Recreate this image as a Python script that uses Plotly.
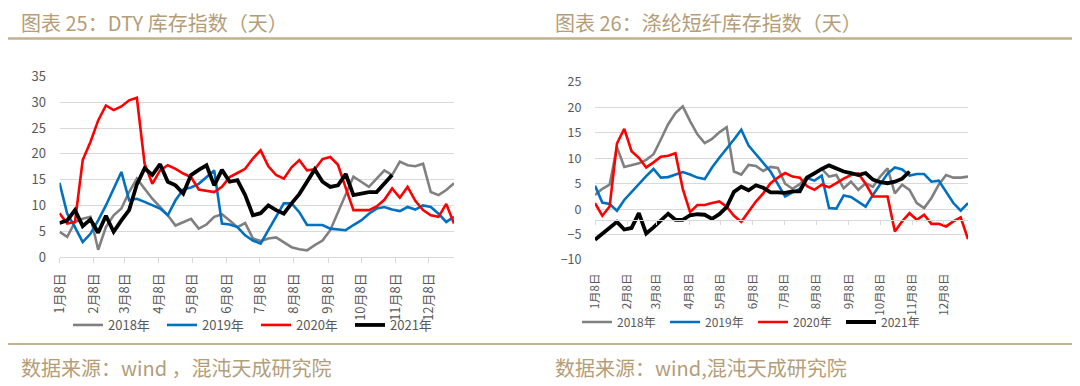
import plotly.graph_objects as go
import pandas as pd

# ---------------- data ----------------
month_ticks = ["2021-%02d-08" % m for m in range(1, 13)]
month_labels = ["%d月8日" % m for m in range(1, 13)]
years = ["2018年", "2019年", "2020年", "2021年"]

dty_2018 = [4.9, 3.9, 6.8, 7.4, 7.8, 1.4, 5.8, 8.1, 9.4, 12.6, 15.2, 13.3, 11.3, 9.7, 8.1, 6.1,
            6.8, 7.4, 5.5, 6.3, 7.8, 8.3, 7.1, 5.8, 6.6, 3.6, 3.1, 3.6, 3.8, 2.9, 1.9, 1.5,
            1.3, 2.3, 3.2, 5.2, 8.7, 12.3, 15.6, 14.6, 13.6, 15.2, 16.8, 15.9, 18.5, 17.8,
            17.6, 18.1, 12.6, 12.0, 13.0, 14.3]
dty_2019 = [14.4, 8.4, 5.8, 2.9, 4.5, 7.1, 10.0, 13.3, 16.5, 11.0, 11.3, 10.7, 10.0, 9.4, 8.1,
            11.0, 13.1, 13.5, 14.2, 15.5, 16.8, 6.5, 6.3, 5.8, 4.2, 3.2, 2.6, 5.2, 7.8, 10.4,
            10.4, 8.7, 6.2, 6.2, 6.2, 5.5, 5.3, 5.2, 6.2, 7.1, 8.4, 9.4, 9.7, 9.2, 8.9, 9.7,
            9.2, 10.0, 9.7, 8.4, 6.8, 7.8]
dty_2020 = [8.5, 6.5, 6.8, 18.8, 22.3, 26.5, 29.4, 28.5, 29.2, 30.4, 30.9, 18.1, 14.2, 16.8,
            17.8, 17.1, 16.2, 15.5, 13.1, 12.9, 12.6, 13.6, 15.5, 16.3, 17.1, 19.1, 20.7, 17.6,
            15.9, 15.2, 17.4, 18.8, 16.8, 17.0, 19.0, 19.4, 17.9, 13.4, 9.1, 9.1, 9.1, 9.8,
            11.1, 13.3, 11.5, 13.6, 10.9, 9.1, 8.1, 7.8, 10.3, 6.5]
dty_2021 = [6.6, 7.1, 9.1, 6.0, 7.3, 4.7, 8.0, 4.9, 7.1, 9.1, 14.1, 17.2, 15.9, 18.0, 14.6,
            13.9, 12.3, 15.9, 16.9, 17.8, 13.9, 16.9, 14.6, 14.9, 12.0, 8.1, 8.5, 10.0, 9.1,
            8.4, 10.4, 12.2, 14.6, 17.0, 14.6, 13.6, 13.9, 16.1, 12.0, 12.3, 12.6, 12.6, 14.3,
            15.9]

psf_2018 = [2.8, 4.0, 4.8, 12.2, 8.3, 8.6, 9.0, 9.7, 10.8, 13.7, 16.7, 18.9, 20.2, 17.3, 14.7,
            13.0, 13.8, 15.1, 16.1, 7.4, 6.8, 8.7, 8.5, 7.5, 8.3, 8.1, 5.0, 4.0, 4.9, 6.4, 6.9,
            7.9, 6.4, 6.7, 4.1, 5.4, 3.8, 5.1, 4.4, 6.4, 8.0, 3.1, 4.8, 3.8, 1.2, 0.2, 2.2,
            4.8, 6.7, 6.2, 6.2, 6.4]
psf_2019 = [4.6, 1.3, 1.0, -0.3, 1.8, 3.4, 5.0, 6.5, 7.9, 6.2, 6.3, 6.8, 7.3, 6.8, 6.2, 5.9,
            8.2, 10.1, 11.8, 13.7, 15.6, 12.5, 10.8, 9.0, 7.4, 4.9, 2.5, 3.3, 4.0, 6.1, 5.6,
            6.6, 0.2, 0.1, 2.7, 2.4, 1.5, 0.5, 2.8, 4.8, 7.0, 8.2, 7.8, 6.6, 6.9, 6.9, 5.4,
            5.6, 3.5, 1.2, -0.3, 1.2]
psf_2020 = [1.2, -1.3, 0.5, 12.9, 15.8, 11.4, 10.1, 8.2, 9.2, 10.3, 10.5, 11.0, 4.0, -0.6, 0.8,
            0.8, 1.2, 1.5, 0.5, -1.3, -2.5, -0.5, 1.5, 3.1, 5.1, 6.2, 7.1, 6.4, 6.2, 4.5, 3.8,
            4.8, 4.3, 5.1, 6.0, 6.7, 7.0, 5.0, 2.5, 2.5, 2.5, -4.4, -2.4, -0.8, -2.1, -1.1,
            -2.9, -2.9, -3.4, -2.4, -1.6, -5.9]
psf_2021 = [-6.0, -4.8, -3.5, -2.5, -4.0, -3.7, -0.8, -4.8, -3.6, -2.2, -0.9, -2.1, -2.1, -1.2,
            -1.0, -1.1, -1.9, -1.0, 0.4, 3.4, 4.4, 3.7, 4.7, 4.2, 3.3, 3.3, 3.2, 3.5, 3.5, 6.2,
            7.1, 7.9, 8.6, 8.0, 7.4, 7.1, 6.7, 7.1, 5.8, 5.3, 5.1, 5.4, 6.0, 7.4]

# ---------------- style ----------------
colors = ["#808080", "#0070C0", "#FF0000", "#000000"]
widths = [2.6, 2.6, 2.6, 3.8]
FONT = "Noto Sans CJK SC"
TAN = "#B49D78"
RULE = "#C2B18C"
GRID = "#D9D9D9"
LABEL = "#595959"
OFF = 8                      # page body margin of the html page
W, H = 1080 - OFF, 386 - OFF


def px(x):   # screen x (frame pixels) -> paper fraction
    return (x - OFF) / W


def py(y):   # screen y (frame pixels) -> paper fraction
    return 1 - (y - OFF) / H


def weeks(n):
    return pd.date_range("2021-01-08", periods=n, freq="7D")


fig = go.Figure()
for name, vals, c, w in zip(years, [dty_2018, dty_2019, dty_2020, dty_2021], colors, widths):
    fig.add_trace(go.Scatter(x=weeks(len(vals)), y=vals, name=name, mode="lines",
                             line=dict(color=c, width=w), xaxis="x", yaxis="y",
                             legend="legend"))
for name, vals, c, w in zip(years, [psf_2018, psf_2019, psf_2020, psf_2021], colors, widths):
    fig.add_trace(go.Scatter(x=weeks(len(vals)), y=vals, name=name, mode="lines",
                             line=dict(color=c, width=w), xaxis="x2", yaxis="y2",
                             legend="legend2"))
# invisible helper so the crossing axis of the right chart is drawn
fig.add_trace(go.Scatter(x=weeks(1), y=psf_2021[:1], mode="markers", marker=dict(opacity=0),
                         xaxis="x3", yaxis="y2", showlegend=False, hoverinfo="skip"))

xr = ["2021-01-08", "2021-12-31"]
L_dom_x = [px(59.5), px(454)]
L_dom_y = [py(257), py(76.6)]
R_dom_x = [px(595), px(968)]
R_dom_y = [py(260), py(82)]
cross_val = -2.2
cross_pos = R_dom_y[0] + (cross_val + 10) / 35 * (R_dom_y[1] - R_dom_y[0])

common_x = dict(type="date", range=xr, tickvals=month_ticks, ticktext=month_labels,
                tickangle=-90, showgrid=False, zeroline=False, automargin=False)

fig.update_layout(
    template="none",
    width=W, height=H, margin=dict(l=0, r=0, t=0, b=0, pad=0, autoexpand=False),
    paper_bgcolor="white", plot_bgcolor="white",
    font=dict(family=FONT, color=LABEL),
    xaxis=dict(common_x, domain=L_dom_x, anchor="y", showline=True, linecolor=GRID,
               linewidth=1, ticks="outside", ticklen=5, tickcolor=GRID,
               tickfont=dict(size=13, color=LABEL), ticklabelstandoff=5),
    yaxis=dict(domain=L_dom_y, range=[0, 35], dtick=5, anchor="x", showgrid=True,
               gridcolor=GRID, gridwidth=1, zeroline=False, showline=False,
               ticks="outside", ticklen=10, tickcolor="rgba(0,0,0,0)", automargin=False,
               tickfont=dict(size=13, color=LABEL)),
    xaxis2=dict(common_x, domain=R_dom_x, anchor="y2", showline=False,
                ticks="outside", ticklen=8, tickcolor="rgba(0,0,0,0)",
                tickfont=dict(size=11.5, color=LABEL)),
    xaxis3=dict(common_x, overlaying="x2", anchor="free", position=cross_pos,
                showticklabels=False, showline=True, linecolor=GRID, linewidth=1,
                ticks="outside", ticklen=4, tickcolor=GRID),
    yaxis2=dict(domain=R_dom_y, range=[-10, 25], dtick=5, anchor="x2", showgrid=True,
                gridcolor=GRID, gridwidth=1, zeroline=False, showline=False,
                ticks="outside", ticklen=10, tickcolor="rgba(0,0,0,0)", automargin=False,
                tickfont=dict(size=12.5, color=LABEL)),
    legend=dict(orientation="h", x=px(68), y=py(325), xanchor="left", yanchor="middle",
                font=dict(size=13, color=LABEL), bgcolor="rgba(0,0,0,0)",
                entrywidth=49, entrywidthmode="pixels"),
    legend2=dict(orientation="h", x=px(577), y=py(322), xanchor="left", yanchor="middle",
                 font=dict(size=12, color=LABEL), bgcolor="rgba(0,0,0,0)",
                 entrywidth=43, entrywidthmode="pixels"),
    showlegend=True,
)

titles = [("图表 25：DTY 库存指数（天）", 19), ("图表 26：涤纶短纤库存指数（天）", 553)]
for txt, x0 in titles:
    fig.add_annotation(text=txt, xref="paper", yref="paper", x=px(x0), y=py(22.5),
                       xanchor="left", yanchor="middle", showarrow=False,
                       font=dict(family=FONT, size=20, color=TAN))
sources = [("数据来源：wind ，混沌天成研究院", 19), ("数据来源：wind,混沌天成研究院", 553)]
for txt, x0 in sources:
    fig.add_annotation(text=txt, xref="paper", yref="paper", x=px(x0), y=py(367),
                       xanchor="left", yanchor="middle", showarrow=False,
                       font=dict(family=FONT, size=20, color=TAN))

for yy, lw in [(38.5, 2.5), (344, 2.2)]:
    fig.add_shape(type="line", xref="paper", yref="paper", x0=px(8), x1=px(1075),
                  y0=py(yy), y1=py(yy), line=dict(color=RULE, width=lw))

fig.write_html("out.html")
